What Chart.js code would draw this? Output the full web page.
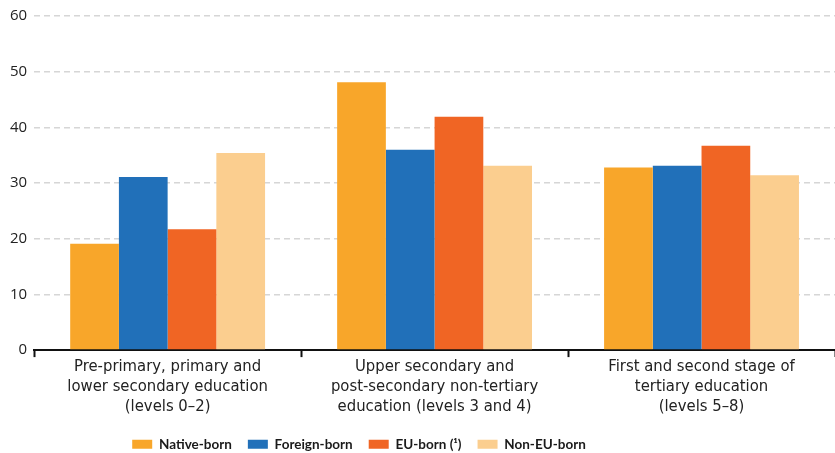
<!DOCTYPE html>
<html>
<head>
<meta charset="utf-8">
<script src="https://cdn.jsdelivr.net/npm/chart.js@4/dist/chart.umd.min.js"></script>
<style>
    html, body { margin: 0; padding: 0; background: #fff; overflow: hidden; }
    #wrap { width: 835px; height: 453px; position: relative; }
</style>
</head>
<body>
<div id="wrap"><canvas id="educationChart"></canvas></div>
<script>
// Education levels (x axis)
const categories = [
    ['Pre-primary, primary and', 'lower secondary education', '(levels 0\u20132)'],
    ['Upper secondary and', 'post-secondary non-tertiary', 'education (levels 3 and 4)'],
    ['First and second stage of', 'tertiary education', '(levels 5\u20138)']
];

// Series values (%)
const nativeBorn = [19.1, 48.1, 32.8];
const foreignBorn = [31.1, 36.0, 33.1];
const euBorn = [21.7, 41.9, 36.7];
const nonEuBorn = [35.4, 33.1, 31.4];

const seriesNames = ['Native-born', 'Foreign-born', 'EU-born (\u00b9)', 'Non-EU-born'];
const yTicks = [0, 10, 20, 30, 40, 50, 60];

document.addEventListener("DOMContentLoaded", function () {
    const ctx = document.getElementById("educationChart").getContext("2d");
    const colours = ['#F8A62A', '#2170B9', '#F06524', '#FBCE8F'];
    const values = [nativeBorn, foreignBorn, euBorn, nonEuBorn];

    // Legend in the original sits left of centre
    const shiftLegend = {
        id: 'shiftLegend',
        afterLayout: function (chart) {
            if (chart.legend) {
                chart.legend.left -= 60;
                chart.legend.right -= 60;
            }
        }
    };

    new Chart(ctx, {
        type: 'bar',
        data: {
            labels: categories,
            datasets: seriesNames.map((name, i) => ({
                label: name,
                data: values[i],
                backgroundColor: colours[i],
                borderWidth: 0,
                categoryPercentage: 0.73,
                barPercentage: 1.0
            }))
        },
        plugins: [shiftLegend],
        options: {
            responsive: true,
            maintainAspectRatio: false,
            animation: false,
            layout: { padding: { top: 15, right: 0, left: 3, bottom: -8 } },
            plugins: {
                tooltip: { enabled: false },
                legend: {
                    position: 'bottom',
                    labels: {
                        boxWidth: 20,
                        boxHeight: 9,
                        padding: 16,
                        color: '#1a1a1a',
                        font: { family: "Lato, sans-serif", size: 13.5, weight: 'bold' }
                    }
                }
            },
            scales: {
                x: {
                    afterFit: function (scale) {
                        scale.height += 5; // extra gap between labels and legend
                    },
                    grid: {
                        display: true,
                        offset: true,
                        drawOnChartArea: false,
                        drawTicks: true,
                        tickLength: 7,
                        tickWidth: 2,
                        tickColor: '#111'
                    },
                    border: { display: true, color: '#111', width: 2 },
                    ticks: {
                        color: '#222',
                        padding: 0,
                        maxRotation: 0,
                        autoSkip: false,
                        font: { family: "'Liberation Sans Narrow', 'DejaVu Sans Condensed', sans-serif", size: 16.5, lineHeight: 1.2 }
                    }
                },
                y: {
                    min: 0,
                    max: 60,
                    afterBuildTicks: function (axis) {
                        axis.ticks = yTicks.map(v => ({ value: v }));
                    },
                    border: { display: false, dash: [6, 4] },
                    grid: {
                        color: function (c) { return c.tick && c.tick.value === 0 ? 'rgba(0,0,0,0)' : '#d6d6d6'; },
                        lineWidth: 1.5,
                        drawTicks: false
                    },
                    ticks: {
                        color: '#222',
                        padding: 7,
                        font: { family: "'Open Sans', sans-serif", size: 15 }
                    }
                }
            }
        }
    });
});
</script>
</body>
</html>
